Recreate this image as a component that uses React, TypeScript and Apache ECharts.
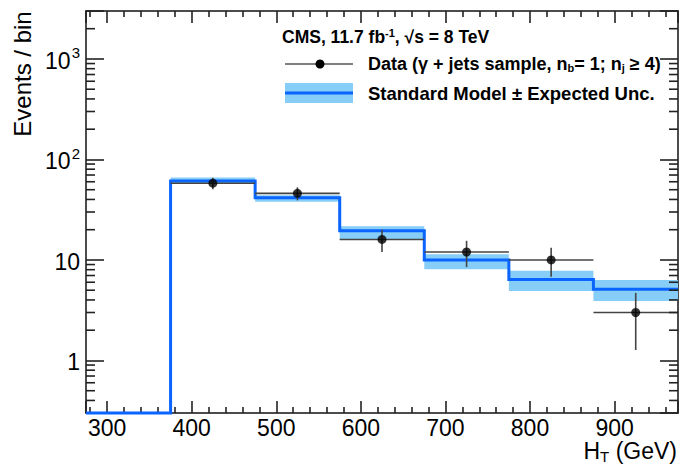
import React, { useEffect, useRef } from 'react';
import * as echarts from 'echarts';

const FONT = '"Liberation Sans", Arial, Helvetica, sans-serif';

const X_MIN = 275;
const X_MAX = 975;
const Y_MIN = 0.3;
const Y_MAX = 3000;

// Histogram bins (GeV)
const binEdges = [275, 375, 475, 575, 675, 775, 875, 975];
// Standard Model expectation and its uncertainty band per bin
const modelValues = [0, 61, 41.5, 19.5, 10, 6.4, 5.1];
const modelUncLow = [0, 57, 38, 16, 8.1, 4.9, 3.9];
const modelUncHigh = [0, 66, 44, 21.6, 11.4, 7.8, 6.3];

// Data points (bin centres), values and error bar ends
const dataCenters = [425, 525, 625, 725, 825, 925];
const dataLo = [375, 475, 575, 675, 775, 875];
const dataHi = [475, 575, 675, 775, 875, 975];
const dataValues = [58, 46, 16, 12, 10, 3];
const dataErrLow = [50.5, 39.2, 12, 8.5, 6.8, 1.27];
const dataErrHigh = [65.6, 52.8, 20, 15.5, 13.2, 4.7];

// Log axis minor ticks
const yMinorTickValues = [
  0.4, 0.5, 0.6, 0.7, 0.8, 0.9,
  2, 3, 4, 5, 6, 7, 8, 9,
  20, 30, 40, 50, 60, 70, 80, 90,
  200, 300, 400, 500, 600, 700, 800, 900,
  2000,
];

const BLUE = '#0a64ff';
const BAND = '#86cdf7';
const AXIS = '#111';
const TICK = '#222';

function yLabel(v: number): string {
  const e = Math.round(Math.log10(v));
  if (Math.abs(v - Math.pow(10, e)) > 1e-6 * Math.pow(10, e)) return '';
  if (e === 0) return '{b|1}';
  if (e === 1) return '{b|10}';
  if (e >= 2) return '{b|10}{s|' + e + '}';
  return '';
}

export default function App() {
  const ref = useRef<HTMLDivElement>(null);

  useEffect(() => {
    if (!ref.current) return;
    const chart = echarts.init(ref.current, undefined, { renderer: 'svg' });

    const modelStep: number[][] = [];
    for (let i = 0; i < modelValues.length; i++) {
      const v = Math.max(modelValues[i], Y_MIN);
      modelStep.push([binEdges[i], v]);
      modelStep.push([binEdges[i + 1], v]);
    }

    const bandData: number[][] = [];
    for (let i = 0; i < modelValues.length; i++) {
      if (modelUncHigh[i] > 0) {
        bandData.push([binEdges[i], binEdges[i + 1], modelUncLow[i], modelUncHigh[i]]);
      }
    }

    const errData = dataCenters.map((x, i) => [
      dataLo[i], dataHi[i], x, dataValues[i], dataErrLow[i], dataErrHigh[i],
    ]);

    const xCommon = () => ({
      type: 'value',
      min: X_MIN,
      max: X_MAX,
      splitNumber: 7,
      splitLine: { show: false },
      axisLine: { show: true, onZero: false, lineStyle: { color: AXIS, width: 1.5 } },
      axisTick: { show: true, inside: true, length: 12, lineStyle: { color: TICK, width: 1.6 } },
      minorTick: { show: true, splitNumber: 5, length: 6, lineStyle: { color: TICK, width: 1.6 } },
    });

    const yCommon = () => ({
      type: 'log',
      logBase: 10,
      min: Y_MIN,
      max: Y_MAX,
      splitLine: { show: false },
      axisLine: { show: true, onZero: false, lineStyle: { color: AXIS, width: 1.5 } },
      axisTick: { show: true, inside: true, length: 18, lineStyle: { color: TICK, width: 1.6 } },
    });

    const option: any = {
      animation: false,
      grid: { left: 86, right: 4, top: 11, bottom: 51 },
      xAxis: [
        Object.assign(xCommon(), {
          position: 'bottom',
          axisLabel: {
            show: true,
            fontSize: 23,
            lineHeight: 20,
            color: '#000',
            fontFamily: FONT,
            margin: 5,
            showMinLabel: false,
            showMaxLabel: false,
            formatter: (v: number) => (v <= X_MIN || v >= X_MAX ? '' : String(v)),
          },
        }),
        Object.assign(xCommon(), {
          position: 'top',
          axisLabel: { show: false },
        }),
      ],
      yAxis: [
        Object.assign(yCommon(), {
          position: 'left',
          axisLabel: {
            show: true,
            margin: 6,
            color: '#000',
            fontFamily: FONT,
            formatter: (v: number) => yLabel(v),
            rich: {
              b: { fontSize: 23, fontFamily: FONT, color: '#000', padding: [4, 0, 0, 0] },
              s: { fontSize: 15, fontFamily: FONT, color: '#000', verticalAlign: 'top', padding: [0, 0, 0, 1] },
            },
          },
        }),
        Object.assign(yCommon(), {
          position: 'right',
          axisLabel: { show: false },
        }),
      ],
      series: [
        {
          name: 'band',
          type: 'custom',
          xAxisIndex: 0,
          yAxisIndex: 0,
          z: 1,
          silent: true,
          data: bandData,
          encode: { x: [0, 1], y: [2, 3] },
          renderItem: (params: any, api: any) => {
            const p1 = api.coord([api.value(0), api.value(3)]);
            const p2 = api.coord([api.value(1), api.value(2)]);
            return {
              type: 'rect',
              shape: { x: p1[0], y: p1[1], width: p2[0] - p1[0], height: p2[1] - p1[1] },
              style: { fill: BAND },
            };
          },
        },
        {
          name: 'model',
          type: 'line',
          xAxisIndex: 0,
          yAxisIndex: 0,
          z: 3,
          silent: true,
          clip: false,
          showSymbol: false,
          symbol: 'none',
          data: modelStep,
          lineStyle: { color: BLUE, width: 3, join: 'miter', cap: 'butt' },
        },
        {
          name: 'errors',
          type: 'custom',
          xAxisIndex: 0,
          yAxisIndex: 0,
          z: 4,
          silent: true,
          data: errData,
          encode: { x: [0, 1, 2], y: [3, 4, 5] },
          renderItem: (params: any, api: any) => {
            const l = api.coord([api.value(0), api.value(3)]);
            const r = api.coord([api.value(1), api.value(3)]);
            const top = api.coord([api.value(2), api.value(5)]);
            const bot = api.coord([api.value(2), api.value(4)]);
            const st = { stroke: '#444', lineWidth: 1.6 };
            return {
              type: 'group',
              children: [
                { type: 'line', shape: { x1: l[0], y1: l[1], x2: r[0], y2: r[1] }, style: st },
                { type: 'line', shape: { x1: top[0], y1: top[1], x2: bot[0], y2: bot[1] }, style: st },
              ],
            };
          },
        },
        {
          name: 'data',
          type: 'scatter',
          xAxisIndex: 0,
          yAxisIndex: 0,
          z: 5,
          silent: true,
          symbol: 'circle',
          symbolSize: 9,
          itemStyle: { color: '#000' },
          data: dataCenters.map((x, i) => [x, dataValues[i]]),
        },
        {
          name: 'yMinorTicksLeft',
          type: 'custom',
          xAxisIndex: 0,
          yAxisIndex: 0,
          z: 6,
          silent: true,
          data: yMinorTickValues.map((v) => [X_MIN, v]),
          encode: { x: 0, y: 1 },
          renderItem: (params: any, api: any) => {
            const l = api.coord([X_MIN, api.value(1)]);
            return {
              type: 'line',
              shape: { x1: l[0], y1: l[1], x2: l[0] + 9, y2: l[1] },
              style: { stroke: TICK, lineWidth: 1.6 },
            };
          },
        },
        {
          name: 'yMinorTicksRight',
          type: 'custom',
          xAxisIndex: 0,
          yAxisIndex: 0,
          z: 6,
          silent: true,
          data: yMinorTickValues.map((v) => [X_MAX, v]),
          encode: { x: 0, y: 1 },
          renderItem: (params: any, api: any) => {
            const r = api.coord([X_MAX, api.value(1)]);
            return {
              type: 'line',
              shape: { x1: r[0], y1: r[1], x2: r[0] - 9, y2: r[1] },
              style: { stroke: TICK, lineWidth: 1.6 },
            };
          },
        },
      ],
      graphic: [
        {
          type: 'text',
          x: 22,
          y: 74,
          rotation: Math.PI / 2,
          style: {
            text: 'Events / bin',
            fontSize: 24,
            fontFamily: FONT,
            fill: '#000',
            align: 'center',
            verticalAlign: 'middle',
          },
        },
        {
          type: 'text',
          x: 677,
          y: 451,
          style: {
            text: '{a|H}{s|T}{a| (GeV)}',
            align: 'right',
            verticalAlign: 'middle',
            fill: '#000',
            rich: {
              a: { fontSize: 23, lineHeight: 22, fontFamily: FONT, color: '#000' },
              s: { fontSize: 15, fontFamily: FONT, color: '#000', verticalAlign: 'bottom', padding: [10, 0, 0, 0] },
            },
          },
        },
        {
          type: 'text',
          x: 282,
          y: 37,
          style: {
            text: '{a|CMS, 11.7 fb}{s|-1}{a|, √s = 8 TeV}',
            align: 'left',
            verticalAlign: 'middle',
            rich: {
              a: { fontSize: 17.5, fontWeight: 'bold', fontFamily: FONT, color: '#000' },
              s: { fontSize: 11, fontWeight: 'bold', fontFamily: FONT, color: '#000', verticalAlign: 'top', padding: [0, 0, 8, 0] },
            },
          },
        },
        {
          type: 'line',
          shape: { x1: 285, y1: 64, x2: 353, y2: 64 },
          style: { stroke: '#555', lineWidth: 1.6 },
        },
        {
          type: 'circle',
          shape: { cx: 320, cy: 64, r: 4.5 },
          style: { fill: '#000' },
        },
        {
          type: 'text',
          x: 368,
          y: 64,
          style: {
            text: '{a|Data (γ + jets sample, n}{s|b}{a|= 1; n}{s|j}{a| ≥ 4)}',
            align: 'left',
            verticalAlign: 'middle',
            rich: {
              a: { fontSize: 18, fontWeight: 'bold', fontFamily: FONT, color: '#000' },
              s: { fontSize: 11, fontWeight: 'bold', fontFamily: FONT, color: '#000', verticalAlign: 'bottom', padding: [8, 0, 0, 0] },
            },
          },
        },
        {
          type: 'rect',
          shape: { x: 285, y: 83, width: 68, height: 20 },
          style: { fill: BAND },
        },
        {
          type: 'line',
          shape: { x1: 285, y1: 93, x2: 353, y2: 93 },
          style: { stroke: BLUE, lineWidth: 3 },
        },
        {
          type: 'text',
          x: 368,
          y: 93,
          style: {
            text: 'Standard Model ± Expected Unc.',
            fontSize: 18.5,
            fontWeight: 'bold',
            fontFamily: FONT,
            fill: '#000',
            align: 'left',
            verticalAlign: 'middle',
          },
        },
      ],
    };

    chart.setOption(option);
    return () => chart.dispose();
  }, []);

  return (
    <div
      ref={ref}
      style={{ position: 'fixed', left: 0, top: 0, width: 682, height: 464, background: '#fff' }}
    />
  );
}
